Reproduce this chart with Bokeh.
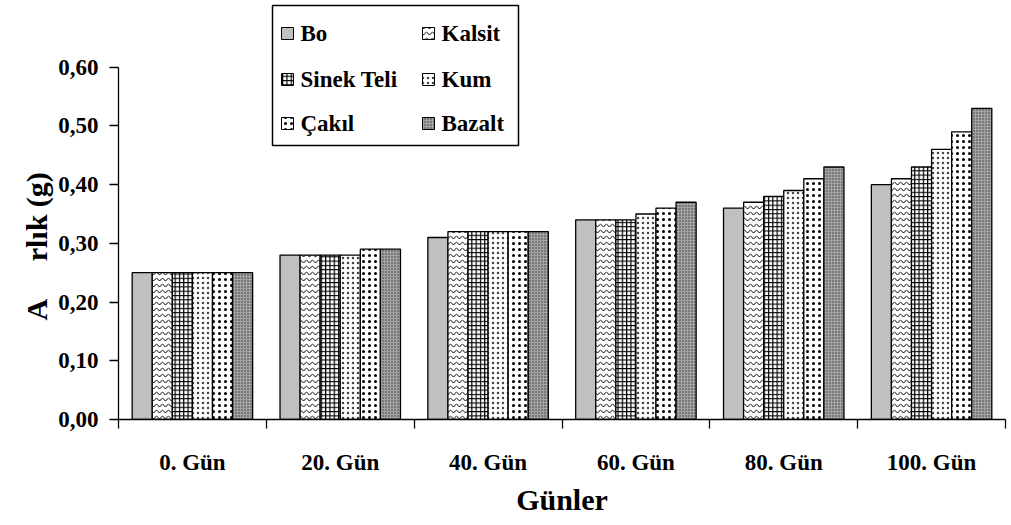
from bokeh.plotting import figure
from bokeh.models import (ColumnDataSource, Range1d, FixedTicker,
                          CustomJSTickFormatter, Title, Label)
from bokeh.transform import dodge
from bokeh.embed import file_html
from bokeh.resources import INLINE

# --- data ---------------------------------------------------------------
days = ["0. Gün", "20. Gün", "40. Gün", "60. Gün", "80. Gün", "100. Gün"]
series_names = ["Bo", "Kalsit", "Sinek Teli", "Kum", "Çakıl", "Bazalt"]
bo = [0.25, 0.28, 0.31, 0.34, 0.36, 0.40]
kalsit = [0.25, 0.28, 0.32, 0.34, 0.37, 0.41]
sinek_teli = [0.25, 0.28, 0.32, 0.34, 0.38, 0.43]
kum = [0.25, 0.28, 0.32, 0.35, 0.39, 0.46]
cakil = [0.25, 0.29, 0.32, 0.36, 0.41, 0.49]
bazalt = [0.25, 0.29, 0.32, 0.37, 0.43, 0.53]
y_ticks = [0.0, 0.1, 0.2, 0.3, 0.4, 0.5, 0.6]
y_title = "A\u00a0\u00a0\u00a0\u00a0\u00a0rlık (g)"

FONT = "Liberation Serif"
BAR_W = 0.1358
Y_MAX = 0.7136

# frame geometry (pixels) used to place the legend block
W, H = 1011, 525
LEFT, RIGHT, TOP, BOTTOM = 118, 6, 0, 106
FRAME_W = W - LEFT - RIGHT
FRAME_H = H - TOP - BOTTOM


def px_x(px):
    return (px - LEFT) / FRAME_W * len(days)


def px_y(py):
    return (TOP + FRAME_H - py) / FRAME_H * Y_MAX


src = ColumnDataSource(dict(
    x=[i + 0.5 for i in range(len(days))],
    s0=bo, s1=kalsit, s2=sinek_teli, s3=kum, s4=cakil, s5=bazalt,
))

p = figure(width=W, height=H, output_backend="svg", toolbar_location=None,
           x_range=Range1d(0, len(days)), y_range=Range1d(0, Y_MAX),
           min_border_left=LEFT, min_border_right=RIGHT,
           min_border_top=TOP, min_border_bottom=BOTTOM)
p.outline_line_color = None
p.background_fill_color = "white"
p.border_fill_color = "white"
p.grid.visible = False

# fill / hatch style of each series
styles = [
    dict(fill_color="#c0c0c0"),
    dict(fill_color="white", hatch_pattern="horizontal_wave", hatch_scale=6,
         hatch_weight=1, hatch_color="black"),
    dict(fill_color="white", hatch_pattern="cross", hatch_scale=4.3,
         hatch_weight=1.2, hatch_color="black"),
    dict(fill_color="white", hatch_pattern="dot", hatch_scale=5,
         hatch_weight=0.6, hatch_color="#444444"),
    dict(fill_color="white", hatch_pattern="dot", hatch_scale=6,
         hatch_weight=1.6, hatch_color="black"),
    dict(fill_color="#a4a4a4", hatch_pattern="dot", hatch_scale=3,
         hatch_weight=0.4, hatch_color="#333333"),
]

for k, st in enumerate(styles):
    p.vbar(x=dodge("x", (k - 2.5) * BAR_W), top=f"s{k}", width=BAR_W,
           source=src, line_color="black", line_width=1.3, **st)

# legend block: two columns, three rows
p.quad(left=px_x(272), right=px_x(518), top=px_y(5), bottom=px_y(145),
       fill_color="white", line_color="black", line_width=1.5)
col_glyph = [281, 422]
col_text = [300, 441]
row_mid = [33, 79, 123]
for k, (name, st) in enumerate(zip(series_names, styles)):
    row, col = divmod(k, 2)
    gx, cy = col_glyph[col], row_mid[row]
    p.quad(left=px_x(gx), right=px_x(gx + 12), top=px_y(cy - 6),
           bottom=px_y(cy + 6), line_color="black", line_width=1, **st)
    p.add_layout(Label(x=px_x(col_text[col]), y=px_y(cy), text=name,
                       text_font=FONT, text_font_style="bold",
                       text_font_size="23px", text_color="black",
                       text_align="left", text_baseline="middle"))

# y axis
ya = p.yaxis[0]
ya.ticker = FixedTicker(ticks=y_ticks, minor_ticks=[])
ya.formatter = CustomJSTickFormatter(code="return tick.toFixed(2).replace('.', ',')")
ya.bounds = (0, 0.6)
ya.major_tick_out = 9
ya.major_tick_in = 0
ya.major_label_standoff = 11

# y title placed outside the axis, starting near the middle of the 0 - 0.6 span
p.add_layout(Title(text=y_title, align="left", offset=99, vertical_align="middle",
                   standoff=4, text_font=FONT, text_font_style="bold",
                   text_font_size="30px", text_color="black"), "left")

# x axis: labels at group centres, ticks at group boundaries
xa = p.xaxis[0]
xa.ticker = FixedTicker(ticks=[i + 0.5 for i in range(len(days))],
                        minor_ticks=list(range(len(days) + 1)))
xa.major_label_overrides = {i + 0.5: d for i, d in enumerate(days)}
xa.major_tick_out = 0
xa.major_tick_in = 0
xa.minor_tick_out = 9
xa.minor_tick_in = 0
xa.major_label_standoff = 21
xa.axis_label = "Günler"
xa.axis_label_standoff = 5

for ax in (xa, ya):
    ax.axis_line_color = "black"
    ax.axis_line_width = 1.3
    ax.major_tick_line_color = "black"
    ax.major_tick_line_width = 1.3
    ax.minor_tick_line_color = "black"
    ax.minor_tick_line_width = 1.3
    ax.major_label_text_font = FONT
    ax.major_label_text_font_style = "bold"
    ax.major_label_text_font_size = "23px"
    ax.major_label_text_color = "black"
    ax.axis_label_text_font = FONT
    ax.axis_label_text_font_style = "bold"
    ax.axis_label_text_font_size = "30px"
    ax.axis_label_text_color = "black"

open("out.html", "w").write(file_html(p, INLINE))
